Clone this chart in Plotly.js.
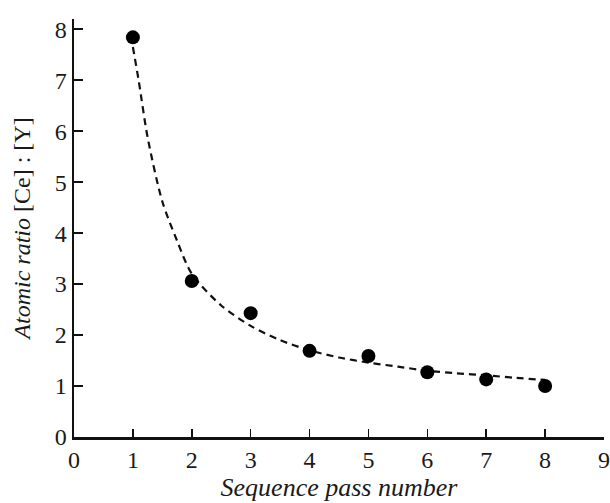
<!DOCTYPE html>
<html>
<head>
<meta charset="utf-8">
<script src="https://cdn.plot.ly/plotly-3.0.1.min.js"></script>
<style>html,body{margin:0;padding:0;background:#fff;}#chart{width:610px;height:503px;}</style>
</head>
<body>
<div id="chart"></div>
<script>
// Measured points
const passNumber = [1, 2, 3, 4, 5, 6, 7, 8];
const atomicRatio = [7.84, 3.06, 2.43, 1.69, 1.59, 1.27, 1.13, 1.00];

// Dashed fit curve
const fitX = [1, 1.1, 1.25, 1.5, 1.75, 2, 2.5, 3, 3.5, 4, 4.5, 5, 5.5, 6, 6.5, 7, 7.5, 8];
const fitY = [7.65, 6.98, 5.88, 4.62, 3.85, 3.2, 2.58, 2.18, 1.90, 1.70, 1.56, 1.46, 1.38, 1.30, 1.25, 1.21, 1.16, 1.12];

const xTicks = [0, 1, 2, 3, 4, 5, 6, 7, 8, 9];
const yTicks = [0, 1, 2, 3, 4, 5, 6, 7, 8];

const fam = 'Liberation Serif, Times New Roman, serif';
const tickFont = {family: fam, color: '#1a1a1a', size: 24};
const xTitleFont = {family: fam, color: '#1a1a1a', size: 26};
const yTitleFont = {family: fam, color: '#1a1a1a', size: 24};

const traces = [
  {x: fitX, y: fitY, mode: 'lines', type: 'scatter', line: {color: '#111', width: 2.2, dash: '7px,5px', shape: 'spline', smoothing: 0.8}, hoverinfo: 'skip'},
  {x: passNumber, y: atomicRatio, mode: 'markers', type: 'scatter', marker: {color: '#000', size: 14, symbol: 'circle'}}
];

const layout = {
  width: 610, height: 503,
  margin: {l: 74, r: 6, t: 19, b: 66},
  paper_bgcolor: '#fff', plot_bgcolor: '#fff',
  showlegend: false,
  font: tickFont,
  xaxis: {
    range: [0, 9], tickvals: xTicks, ticktext: xTicks.map(String),
    ticks: 'inside', ticklen: 8, tickwidth: 1.5, tickcolor: '#111',
    showline: true, linecolor: '#111', linewidth: 2.5,
    showgrid: false, zeroline: false,
    tickfont: tickFont,
    title: {text: '<i>Sequence pass number</i>', font: xTitleFont, standoff: 2}
  },
  yaxis: {
    range: [0, 8.2], tickvals: yTicks, ticktext: yTicks.map(String),
    ticks: 'inside', ticklen: 9, tickwidth: 1.5, tickcolor: '#111',
    showline: true, linecolor: '#111', linewidth: 2.5,
    showgrid: false, zeroline: false,
    tickfont: tickFont,
    title: {text: '<i>Atomic ratio</i> [Ce] : [Y]', font: yTitleFont, standoff: 18}
  }
};

Plotly.newPlot('chart', traces, layout, {staticPlot: true, displayModeBar: false});
</script>
</body>
</html>
